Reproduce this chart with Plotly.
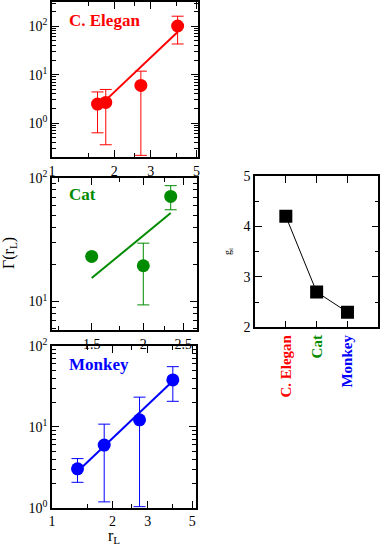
import plotly.graph_objects as go

W, H = 382, 545

# C. Elegan panel
cel_x = [1.66, 1.82, 2.69, 4.05]
cel_y = [2.47, 2.67, 6.0, 101]
cel_hi = [4.4, 4.95, 11.8, 161]
cel_lo = [0.63, 0.357, 0.216, 43]
cel_fit_x = [1.82, 4.05]
cel_fit_y = [2.98, 76]

# Cat panel
cat_x = [1.5, 2.0, 2.33]
cat_y = [23.2, 19.5, 71]
cat_hi = [23.2, 29.7, 86.7]
cat_lo = [23.2, 9.4, 55.3]
cat_fit_x = [1.5, 2.33]
cat_fit_y = [15.5, 52]

# Monkey panel
mon_x = [1.34, 1.82, 2.73, 4.0]
mon_y = [3.03, 5.95, 12.2, 38]
mon_hi = [4.05, 10.8, 23.3, 55.5]
mon_lo = [2.06, 1.18, 1.03, 20.7]
mon_fit_x = [1.34, 4.0]
mon_fit_y = [2.8, 37]

# g_i panel
species = ['C. Elegan', 'Cat', 'Monkey']
g_vals = [4.2, 2.7, 2.3]

RED = '#ff0000'
GREEN = '#008b00'
BLUE = '#0000ff'
colors = [RED, GREEN, BLUE]

FONT = 'Liberation Serif, Times New Roman, serif'


def px_x(a, b):
    return [a / W, b / W]


def px_y(top, bottom):
    return [1 - bottom / H, 1 - top / H]


def decade_minor(lo, hi):
    vals = []
    for e in range(lo, hi):
        for m in range(2, 10):
            vals.append(m * 10 ** e)
    return vals


def axis_style(**kw):
    d = dict(showline=True, linecolor='black', linewidth=1.5, mirror='ticks',
             ticks='inside', ticklen=7, tickwidth=1, tickcolor='black',
             showgrid=False, zeroline=False, automargin=False,
             tickfont=dict(family=FONT, size=14, color='black'))
    d.update(kw)
    return d


def panel(fig, xs, ys, hi, lo, fx, fy, color, xa, ya):
    plus = [h - y for h, y in zip(hi, ys)]
    minus = [y - l for y, l in zip(ys, lo)]
    fig.add_trace(go.Scatter(
        x=xs, y=ys, mode='markers', xaxis=xa, yaxis=ya,
        marker=dict(color=color, size=13, symbol='circle'),
        error_y=dict(type='data', symmetric=False, array=plus, arrayminus=minus,
                     color=color, thickness=1, width=6),
        showlegend=False))
    fig.add_trace(go.Scatter(
        x=fx, y=fy, mode='lines', xaxis=xa, yaxis=ya,
        line=dict(color=color, width=2), showlegend=False))


fig = go.Figure()
panel(fig, cel_x, cel_y, cel_hi, cel_lo, cel_fit_x, cel_fit_y, RED, 'x', 'y')
panel(fig, cat_x, cat_y, cat_hi, cat_lo, cat_fit_x, cat_fit_y, GREEN, 'x2', 'y2')
panel(fig, mon_x, mon_y, mon_hi, mon_lo, mon_fit_x, mon_fit_y, BLUE, 'x3', 'y3')

fig.add_trace(go.Scatter(
    x=[0, 1, 2], y=g_vals, mode='lines+markers', xaxis='x4', yaxis='y4',
    line=dict(color='black', width=1),
    marker=dict(color='black', size=13, symbol='square'),
    showlegend=False))

pow_text = {1: '10<sup>0</sup>', 10: '10<sup>1</sup>', 100: '10<sup>2</sup>'}

fig.update_layout(
    template='none',
    width=W, height=H,
    margin=dict(l=0, r=0, t=0, b=0),
    paper_bgcolor='white', plot_bgcolor='white',
    font=dict(family=FONT, size=14, color='black'),
    xaxis=axis_style(domain=px_x(52, 198), anchor='y', type='log', range=[0, 0.706],
                     tickvals=[1, 2, 3, 5], ticktext=['1', '2', '3', '5'],
                     minor=dict(ticks='inside', ticklen=4, tickvals=[1.5, 2.5, 4])),
    yaxis=axis_style(domain=px_y(2, 157), anchor='x', type='log', range=[-0.7, 2.5],
                     tickvals=[1, 10, 100], ticktext=[pow_text[v] for v in [1, 10, 100]],
                     minor=dict(ticks='inside', ticklen=4, tickvals=decade_minor(-1, 3))),
    xaxis2=axis_style(domain=px_x(52, 197), anchor='y2', type='log', range=[0.080, 0.431],
                      tickvals=[1.5, 2, 2.5], ticktext=['1.5', '2', '2.5'],
                      minor=dict(ticks='inside', ticklen=4, tickvals=[1.25, 1.75, 2.25])),
    yaxis2=axis_style(domain=px_y(178, 330), anchor='x2', type='log', range=[0.77, 2.0],
                      tickvals=[10, 100], ticktext=[pow_text[v] for v in [10, 100]],
                      minor=dict(ticks='inside', ticklen=4, tickvals=decade_minor(0, 2))),
    xaxis3=axis_style(domain=px_x(52, 196), anchor='y3', type='log', range=[0, 0.7175],
                      tickvals=[1, 2, 3, 5], ticktext=['1', '2', '3', '5'],
                      minor=dict(ticks='inside', ticklen=4, tickvals=[1.5, 2.5, 4])),
    yaxis3=axis_style(domain=px_y(346, 507.7), anchor='x3', type='log', range=[0, 2.0],
                      tickvals=[1, 10, 100], ticktext=[pow_text[v] for v in [1, 10, 100]],
                      minor=dict(ticks='inside', ticklen=4, tickvals=decade_minor(0, 2))),
    xaxis4=axis_style(domain=px_x(255, 378.3), anchor='y4', range=[-1, 3],
                      tickvals=[0, 1, 2], tickangle=-90,
                      ticktext=['<b><span style="color:%s">%s</span></b>' % (c, s)
                                for c, s in zip(colors, species)],
                      tickfont=dict(family=FONT, size=15)),
    yaxis4=axis_style(domain=px_y(176, 327.3), anchor='x4', range=[2, 5], dtick=1,
                      minor=dict(ticks='inside', ticklen=4, dtick=0.5)),
)

labels = [('C. Elegan', RED, 67, 20), ('Cat', GREEN, 67, 194), ('Monkey', BLUE, 67, 364)]
for txt, c, lx, ly in labels:
    fig.add_annotation(text='<b>%s</b>' % txt, xref='paper', yref='paper',
                       x=lx / W, y=1 - ly / H, xanchor='left', yanchor='middle',
                       showarrow=False, font=dict(family=FONT, size=17, color=c))

fig.add_annotation(text='Γ(r<sub>L</sub>)', xref='paper', yref='paper',
                   x=10 / W, y=1 - 253 / H, textangle=-90, showarrow=False,
                   xanchor='center', yanchor='middle',
                   font=dict(family=FONT, size=16, color='black'))
fig.add_annotation(text='r<sub>L</sub>', xref='paper', yref='paper',
                   x=114 / W, y=1 - 536 / H, showarrow=False,
                   xanchor='center', yanchor='middle',
                   font=dict(family=FONT, size=16, color='black'))
fig.add_annotation(text='g<sub>i</sub>', xref='paper', yref='paper',
                   x=228 / W, y=1 - 252 / H, textangle=-90, showarrow=False,
                   xanchor='center', yanchor='middle',
                   font=dict(family=FONT, size=10, color='black'))

# drop the browser's default 8px body margin so the figure sits at the page corner
fig.write_html("out.html", config={'displayModeBar': False},
               post_script="document.body.style.margin='0';")
